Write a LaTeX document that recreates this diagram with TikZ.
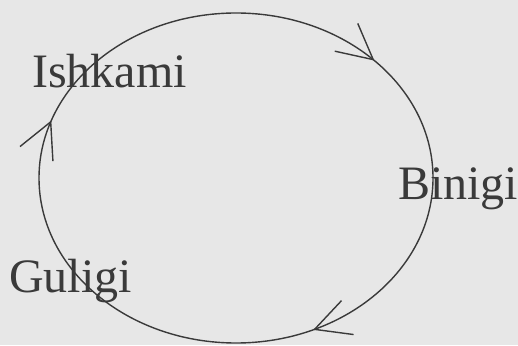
\documentclass[tikz,border=0pt]{standalone}
\usepackage{fontspec}
\setmainfont{Liberation Serif}
\usetikzlibrary{arrows.meta,decorations.markings}
\definecolor{paper}{HTML}{E7E7E7}
\definecolor{ink}{HTML}{3A3A3A}
\tikzset{barb/.tip={Straight Barb[length=35pt, width=36pt]}}

\begin{document}
\begin{tikzpicture}[x=1pt, y=1pt,
    lab/.style={font=\fontsize{48}{48}\selectfont, text=ink, inner sep=0pt, anchor=base west},
    loop/.style={draw=ink, line width=1.4pt, postaction={decorate},
                 decoration={markings,
                   mark=at position 0.052 with {\arrow{barb}},
                   mark=at position 0.381 with {\arrow{barb}},
                   mark=at position 0.681 with {\arrow{barb}}}},
  ]
  \fill[paper] (0,0) rectangle (518,345);
  \useasboundingbox (0,0) rectangle (518,345);
  \coordinate (c) at (236,167);

  \draw[loop] (c) ++(180:197pt and 165pt)
    arc[start angle=180, end angle=-180, x radius=197pt, y radius=165pt];

  \node[lab] (ishkami) at (32,257) {Ishkami};
  \node[lab] (binigi) at (398,145) {Binigi};
  \node[lab] (guligi) at (9,53) {Guligi};
\end{tikzpicture}
\end{document}
